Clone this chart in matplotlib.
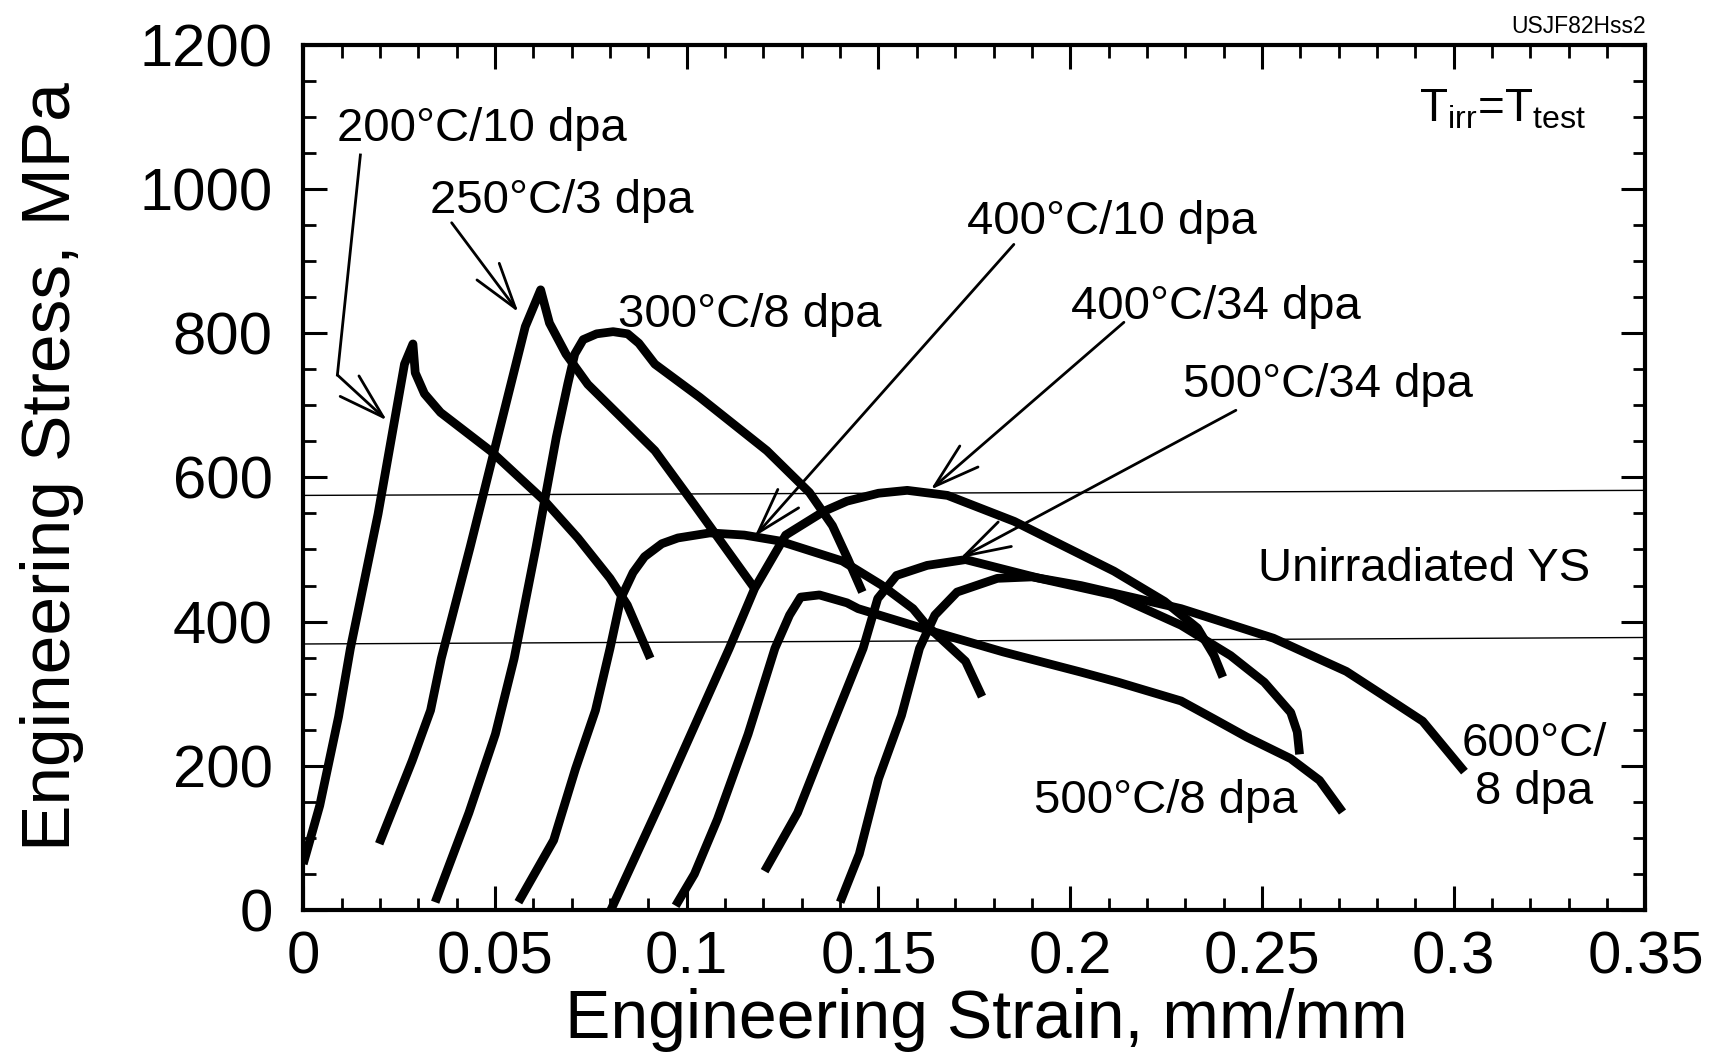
import matplotlib
matplotlib.use('Agg')
import matplotlib.pyplot as plt
from matplotlib.ticker import MultipleLocator

plt.rcParams['font.family'] = ['Liberation Sans', 'DejaVu Sans']
plt.rcParams['mathtext.fontset'] = 'custom'
plt.rcParams['mathtext.rm'] = 'Liberation Sans'

# stress-strain curves (strain mm/mm, stress MPa)
x_200 = [0, 0.0043, 0.0092, 0.0123, 0.0195, 0.0264, 0.0286, 0.0292, 0.0316, 0.0358, 0.049, 0.063, 0.0716, 0.080, 0.0845, 0.0905]
y_200 = [64, 145, 268, 363, 549, 757, 785, 745, 716, 690, 636, 567, 516, 460, 423, 349]

x_250 = [0.0198, 0.0284, 0.0332, 0.036, 0.0435, 0.0507, 0.0579, 0.0619, 0.0642, 0.0685, 0.0742, 0.0917, 0.102, 0.1177]
y_250 = [92, 207, 277, 349, 503, 656, 809, 860, 814, 771, 729, 637, 562, 446]

x_300 = [0.0344, 0.0432, 0.0501, 0.055, 0.0607, 0.066, 0.069, 0.0708, 0.073, 0.0765, 0.0808, 0.0846, 0.0875, 0.0917, 0.1034, 0.1209, 0.132, 0.138, 0.142, 0.1458]
y_300 = [11, 135, 244, 349, 503, 656, 730, 771, 791, 799, 802, 799, 786, 757, 711, 637, 579, 533, 487, 441]

x_400_10 = [0.0561, 0.0653, 0.0710, 0.0762, 0.0800, 0.0828, 0.086, 0.089, 0.0935, 0.0977, 0.106, 0.115, 0.124, 0.1406, 0.1507, 0.159, 0.1627, 0.1727, 0.177]
y_400_10 = [11, 97, 196, 277, 363, 432, 468, 490, 508, 516, 523, 520, 512, 484, 451, 418, 394, 345, 296]

x_400_34 = [0.0802, 0.0931, 0.1031, 0.1111, 0.1177, 0.1258, 0.1358, 0.1418, 0.150, 0.1575, 0.168, 0.1854, 0.2114, 0.2246, 0.2332, 0.2375, 0.2398]
y_400_34 = [0, 149, 268, 363, 446, 520, 553, 567, 578, 582, 575, 539, 470, 428, 391, 353, 323]

x_500_8 = [0.0971, 0.102, 0.108, 0.116, 0.123, 0.1268, 0.1297, 0.1346, 0.1418, 0.1447, 0.165, 0.1825, 0.2028, 0.2125, 0.2289, 0.2375, 0.246, 0.2575, 0.265, 0.271]
y_500_8 = [6, 50, 126, 244, 363, 409, 434, 437, 426, 418, 385, 358, 330, 316, 290, 265, 240, 210, 180, 136]

x_500_34 = [0.1203, 0.1289, 0.137, 0.146, 0.1498, 0.1547, 0.1627, 0.1727, 0.192, 0.2114, 0.2289, 0.2418, 0.2506, 0.2575, 0.2592, 0.2598]
y_500_34 = [54, 135, 244, 363, 432, 464, 478, 486, 460, 437, 395, 353, 316, 274, 247, 216]

x_600 = [0.14, 0.145, 0.15, 0.156, 0.1607, 0.1647, 0.1705, 0.181, 0.190, 0.2028, 0.2289, 0.253, 0.272, 0.2853, 0.2919, 0.3028]
y_600 = [11, 78, 182, 270, 363, 409, 441, 460, 462, 450, 418, 377, 331, 285, 262, 192]

# unirradiated yield strength band (slightly tilted in the scan)
ys_x = [0, 0.35]
ys_upper = [575, 582]
ys_lower = [369, 378]

xtick_vals = [0, 0.05, 0.1, 0.15, 0.2, 0.25, 0.3, 0.35]
xtick_labels = ['0', '0.05', '0.1', '0.15', '0.2', '0.25', '0.3', '0.35']
ytick_vals = [0, 200, 400, 600, 800, 1000, 1200]

fig = plt.figure(figsize=(17.23, 10.62), dpi=100)
ax = fig.add_axes([0.176, 0.143, 0.779, 0.815])

curves = [(x_200, y_200), (x_250, y_250), (x_300, y_300), (x_400_10, y_400_10),
          (x_400_34, y_400_34), (x_500_8, y_500_8), (x_500_34, y_500_34), (x_600, y_600)]
for cx, cy in curves:
    ax.plot(cx, cy, color='k', lw=6.3, solid_joinstyle='round', solid_capstyle='butt')

ax.plot(ys_x, ys_upper, color='k', lw=1.0)
ax.plot(ys_x, ys_lower, color='k', lw=1.0)

ax.set_xlim(0, 0.35)
ax.set_ylim(0, 1200)
ax.set_xticks(xtick_vals)
ax.set_xticklabels(xtick_labels)
ax.set_yticks(ytick_vals)
ax.xaxis.set_minor_locator(MultipleLocator(0.01))
ax.yaxis.set_minor_locator(MultipleLocator(50))
ax.tick_params(which='both', direction='in', top=True, right=True, labelsize=43)
ax.tick_params(which='major', length=17, width=2.2)
ax.tick_params(which='minor', length=9, width=2)
ax.tick_params(axis='x', pad=15)
ax.tick_params(axis='y', pad=22)
for s in ax.spines.values():
    s.set_linewidth(3)

ax.set_xlabel('Engineering Strain, mm/mm', fontsize=49)
ax.set_ylabel('Engineering Stress, MPa', fontsize=50)
ax.xaxis.set_label_coords(0.509, -0.09)
ax.yaxis.set_label_coords(-0.163, 0.512)

# labels and arrows
fs = 34
arr = dict(arrowstyle='->,head_length=1.65,head_width=0.5', lw=2.0, color='k',
           shrinkA=0, shrinkB=0, mutation_scale=20)

ax.text(0.0089, 1067, '200°C/10 dpa', fontsize=fs, va='baseline')
ax.plot([0.0149, 0.0089], [1047, 742], color='k', lw=2.0)
ax.annotate('', xy=(0.0218, 679), xytext=(0.0089, 742), arrowprops=arr)

ax.text(0.033, 966, '250°C/3 dpa', fontsize=fs, va='baseline')
ax.annotate('', xy=(0.0561, 829), xytext=(0.0387, 953), arrowprops=arr)

ax.text(0.0822, 809, '300°C/8 dpa', fontsize=fs, va='baseline')

ax.text(0.173, 937, '400°C/10 dpa', fontsize=fs, va='baseline')
ax.annotate('', xy=(0.1177, 518), xytext=(0.1853, 923), arrowprops=arr)

ax.text(0.2003, 820, '400°C/34 dpa', fontsize=fs, va='baseline')
ax.annotate('', xy=(0.1636, 583), xytext=(0.214, 815), arrowprops=arr)

ax.text(0.2295, 711, '500°C/34 dpa', fontsize=fs, va='baseline')
ax.annotate('', xy=(0.1713, 488), xytext=(0.2432, 693), arrowprops=arr)

ax.text(0.249, 456, 'Unirradiated YS', fontsize=fs, va='baseline')
ax.text(0.1905, 135, '500°C/8 dpa', fontsize=fs, va='baseline')
ax.text(0.302, 214, '600°C/', fontsize=fs, va='baseline')
ax.text(0.3055, 147, '8 dpa', fontsize=fs, va='baseline')

ax.text(0.291, 1094, r'T$_{\mathregular{irr}}$=T$_{\mathregular{test}}$', fontsize=33, va='baseline')
ax.text(1.0, 1.008, 'USJF82Hss2', fontsize=16.5, ha='right', va='bottom', transform=ax.transAxes)

fig.savefig('out.png', dpi=100)
